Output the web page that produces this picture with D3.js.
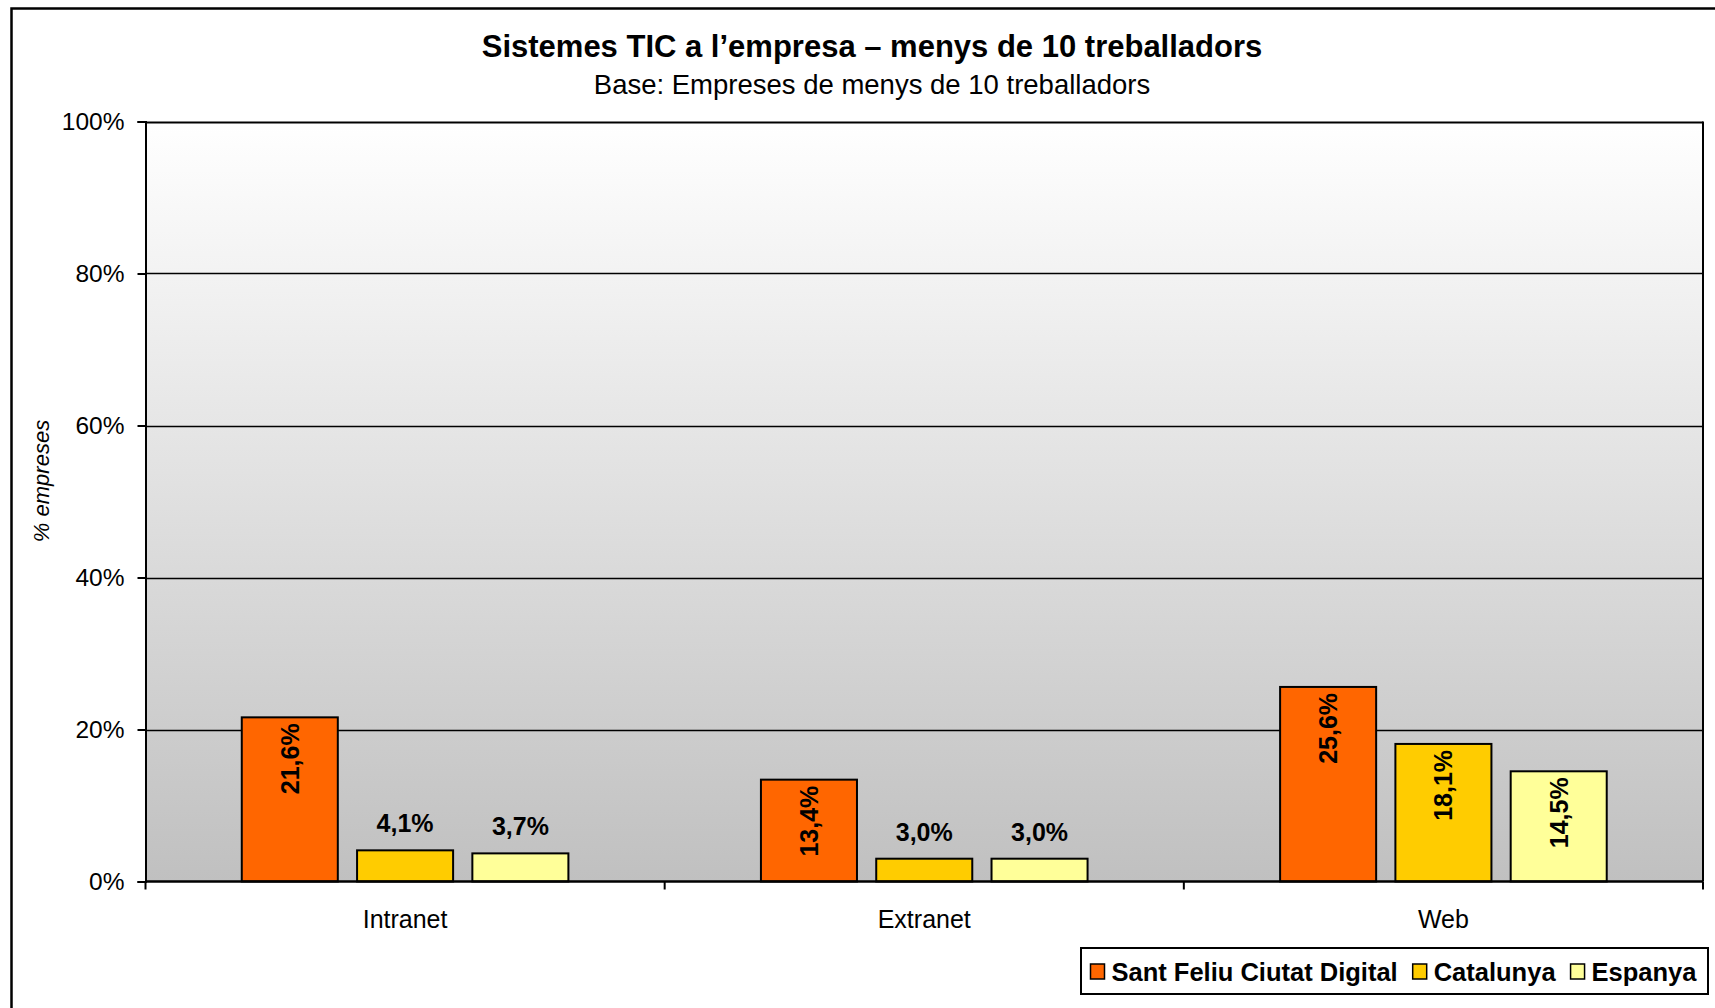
<!DOCTYPE html>
<html><head><meta charset="utf-8">
<script src="https://cdn.jsdelivr.net/npm/d3@7"></script>
<style>html,body{margin:0;padding:0;background:#fff;overflow:hidden}svg{display:block;font-family:"Liberation Sans",Arial,sans-serif}</style>
</head><body>
<svg id="c" width="1715" height="1008"></svg>
<script>
const categories = ["Intranet", "Extranet", "Web"];
const seriesNames = ["Sant Feliu Ciutat Digital", "Catalunya", "Espanya"];
const santFeliu = [21.6, 13.4, 25.6];
const catalunya = [4.1, 3.0, 18.1];
const espanya = [3.7, 3.0, 14.5];
const yTicks = [0, 20, 40, 60, 80, 100];
const colors = ["#FF6600", "#FFCC00", "#FFFF99"];
const title = "Sistemes TIC a l\u2019empresa \u2013 menys de 10 treballadors";
const subtitle = "Base: Empreses de menys de 10 treballadors";
const yTitle = "% empreses";

const seriesValues = [santFeliu, catalunya, espanya];
const svg = d3.select("#c");
const L = 145.5, R = 1703, T = 121.5, B = 881.5;

// outer border
svg.append("rect").attr("x", 11.5).attr("y", 8.5).attr("width", 1730).attr("height", 1030)
  .attr("fill", "#fff").attr("stroke", "#000").attr("stroke-width", 2.5);

// gradient
const defs = svg.append("defs");
const g = defs.append("linearGradient").attr("id", "bg").attr("x1", 0).attr("y1", 0).attr("x2", 0).attr("y2", 1);
g.append("stop").attr("offset", "0%").attr("stop-color", "#ffffff");
g.append("stop").attr("offset", "100%").attr("stop-color", "#c0c0c0");

const y = d3.scaleLinear().domain([0, 100]).range([B, T]);
const x0 = d3.scaleBand().domain(categories).range([L, R]).padding(0);
const x1 = d3.scaleBand().domain(seriesNames).range([0, x0.bandwidth()]).paddingInner(0.167).paddingOuter(0.835);

svg.append("rect").attr("x", L).attr("y", T).attr("width", R - L).attr("height", B - T).attr("fill", "url(#bg)");

// gridlines
svg.append("g").selectAll("line").data(yTicks.filter(d => d > 0)).join("line")
  .attr("x1", L).attr("x2", R).attr("y1", d => Math.round(y(d)) + 0.5).attr("y2", d => Math.round(y(d)) + 0.5)
  .attr("stroke", "#000").attr("stroke-width", d => d === 100 ? 2 : 1.3);
// right border
svg.append("line").attr("x1", R).attr("x2", R).attr("y1", T).attr("y2", B).attr("stroke", "#000").attr("stroke-width", 2);

// y axis
const yAxis = d3.axisLeft(y).tickValues(yTicks).tickFormat(d => d + "%").tickSize(8).tickPadding(13);
const ya = svg.append("g").attr("transform", `translate(${L},0)`).call(yAxis);
ya.select(".domain").attr("stroke", "#000").attr("stroke-width", 2);
ya.selectAll(".tick line").attr("stroke", "#000").attr("stroke-width", 2);
ya.selectAll(".tick text").attr("font-size", 24.5).attr("fill", "#000").attr("font-family", "Liberation Sans, Arial, sans-serif");

// bars
const groups = svg.append("g").selectAll("g").data(categories).join("g")
  .attr("transform", d => `translate(${x0(d)},0)`);
groups.each(function(cat, ci) {
  const gg = d3.select(this);
  seriesNames.forEach((s, si) => {
    const v = seriesValues[si][ci];
    const bx = x1(s), bw = x1.bandwidth();
    gg.append("rect").attr("x", bx).attr("y", y(v)).attr("width", bw).attr("height", B - y(v))
      .attr("fill", colors[si]).attr("stroke", "#000").attr("stroke-width", 2);
    const lbl = v.toFixed(1).replace(".", ",") + "%";
    if (v > 10) {
      gg.append("text").attr("transform", `translate(${bx + bw / 2},${y(v) + 6}) rotate(-90)`)
        .attr("text-anchor", "end").attr("dy", "0.36em")
        .attr("font-size", 25).attr("font-weight", "bold").attr("fill", "#000").text(lbl);
    } else {
      gg.append("text").attr("x", bx + bw / 2).attr("y", y(v) - 18)
        .attr("text-anchor", "middle")
        .attr("font-size", 25).attr("font-weight", "bold").attr("fill", "#000").text(lbl);
    }
  });
});

// x axis
const xa = svg.append("g").attr("transform", `translate(0,${B})`);
xa.append("line").attr("x1", L).attr("x2", R).attr("stroke", "#000").attr("stroke-width", 2.5);
const bounds = [L].concat(categories.map(c => x0(c) + x0.bandwidth()));
xa.selectAll(".tk").data(bounds).join("line").attr("class", "tk")
  .attr("x1", d => d).attr("x2", d => d).attr("y1", 0).attr("y2", 8).attr("stroke", "#000").attr("stroke-width", 2);
xa.selectAll(".cl").data(categories).join("text").attr("class", "cl")
  .attr("x", d => x0(d) + x0.bandwidth() / 2).attr("y", 46)
  .attr("text-anchor", "middle").attr("font-size", 25).attr("fill", "#000").text(d => d);

// titles
svg.append("text").attr("x", 872).attr("y", 57).attr("text-anchor", "middle")
  .attr("font-size", 31).attr("font-weight", "bold").text(title);
svg.append("text").attr("x", 872).attr("y", 94).attr("text-anchor", "middle")
  .attr("font-size", 27.5).text(subtitle);
svg.append("text").attr("transform", `translate(49,481) rotate(-90)`).attr("text-anchor", "middle")
  .attr("font-size", 22).attr("font-style", "italic").text(yTitle);

// legend
const lg = svg.append("g");
lg.append("rect").attr("x", 1081).attr("y", 948).attr("width", 627).attr("height", 46)
  .attr("fill", "#fff").attr("stroke", "#000").attr("stroke-width", 2);
let lx = 1090.5;
seriesNames.forEach((s, i) => {
  lg.append("rect").attr("x", lx).attr("y", 964).attr("width", 14).attr("height", 15)
    .attr("fill", colors[i]).attr("stroke", "#000").attr("stroke-width", 1.5);
  const t = lg.append("text").attr("x", lx + 21).attr("y", 980.5).attr("font-size", 25.5).attr("font-weight", "bold").text(s);
  lx = lx + 21 + t.node().getComputedTextLength() + 15;
});
</script>
</body></html>
